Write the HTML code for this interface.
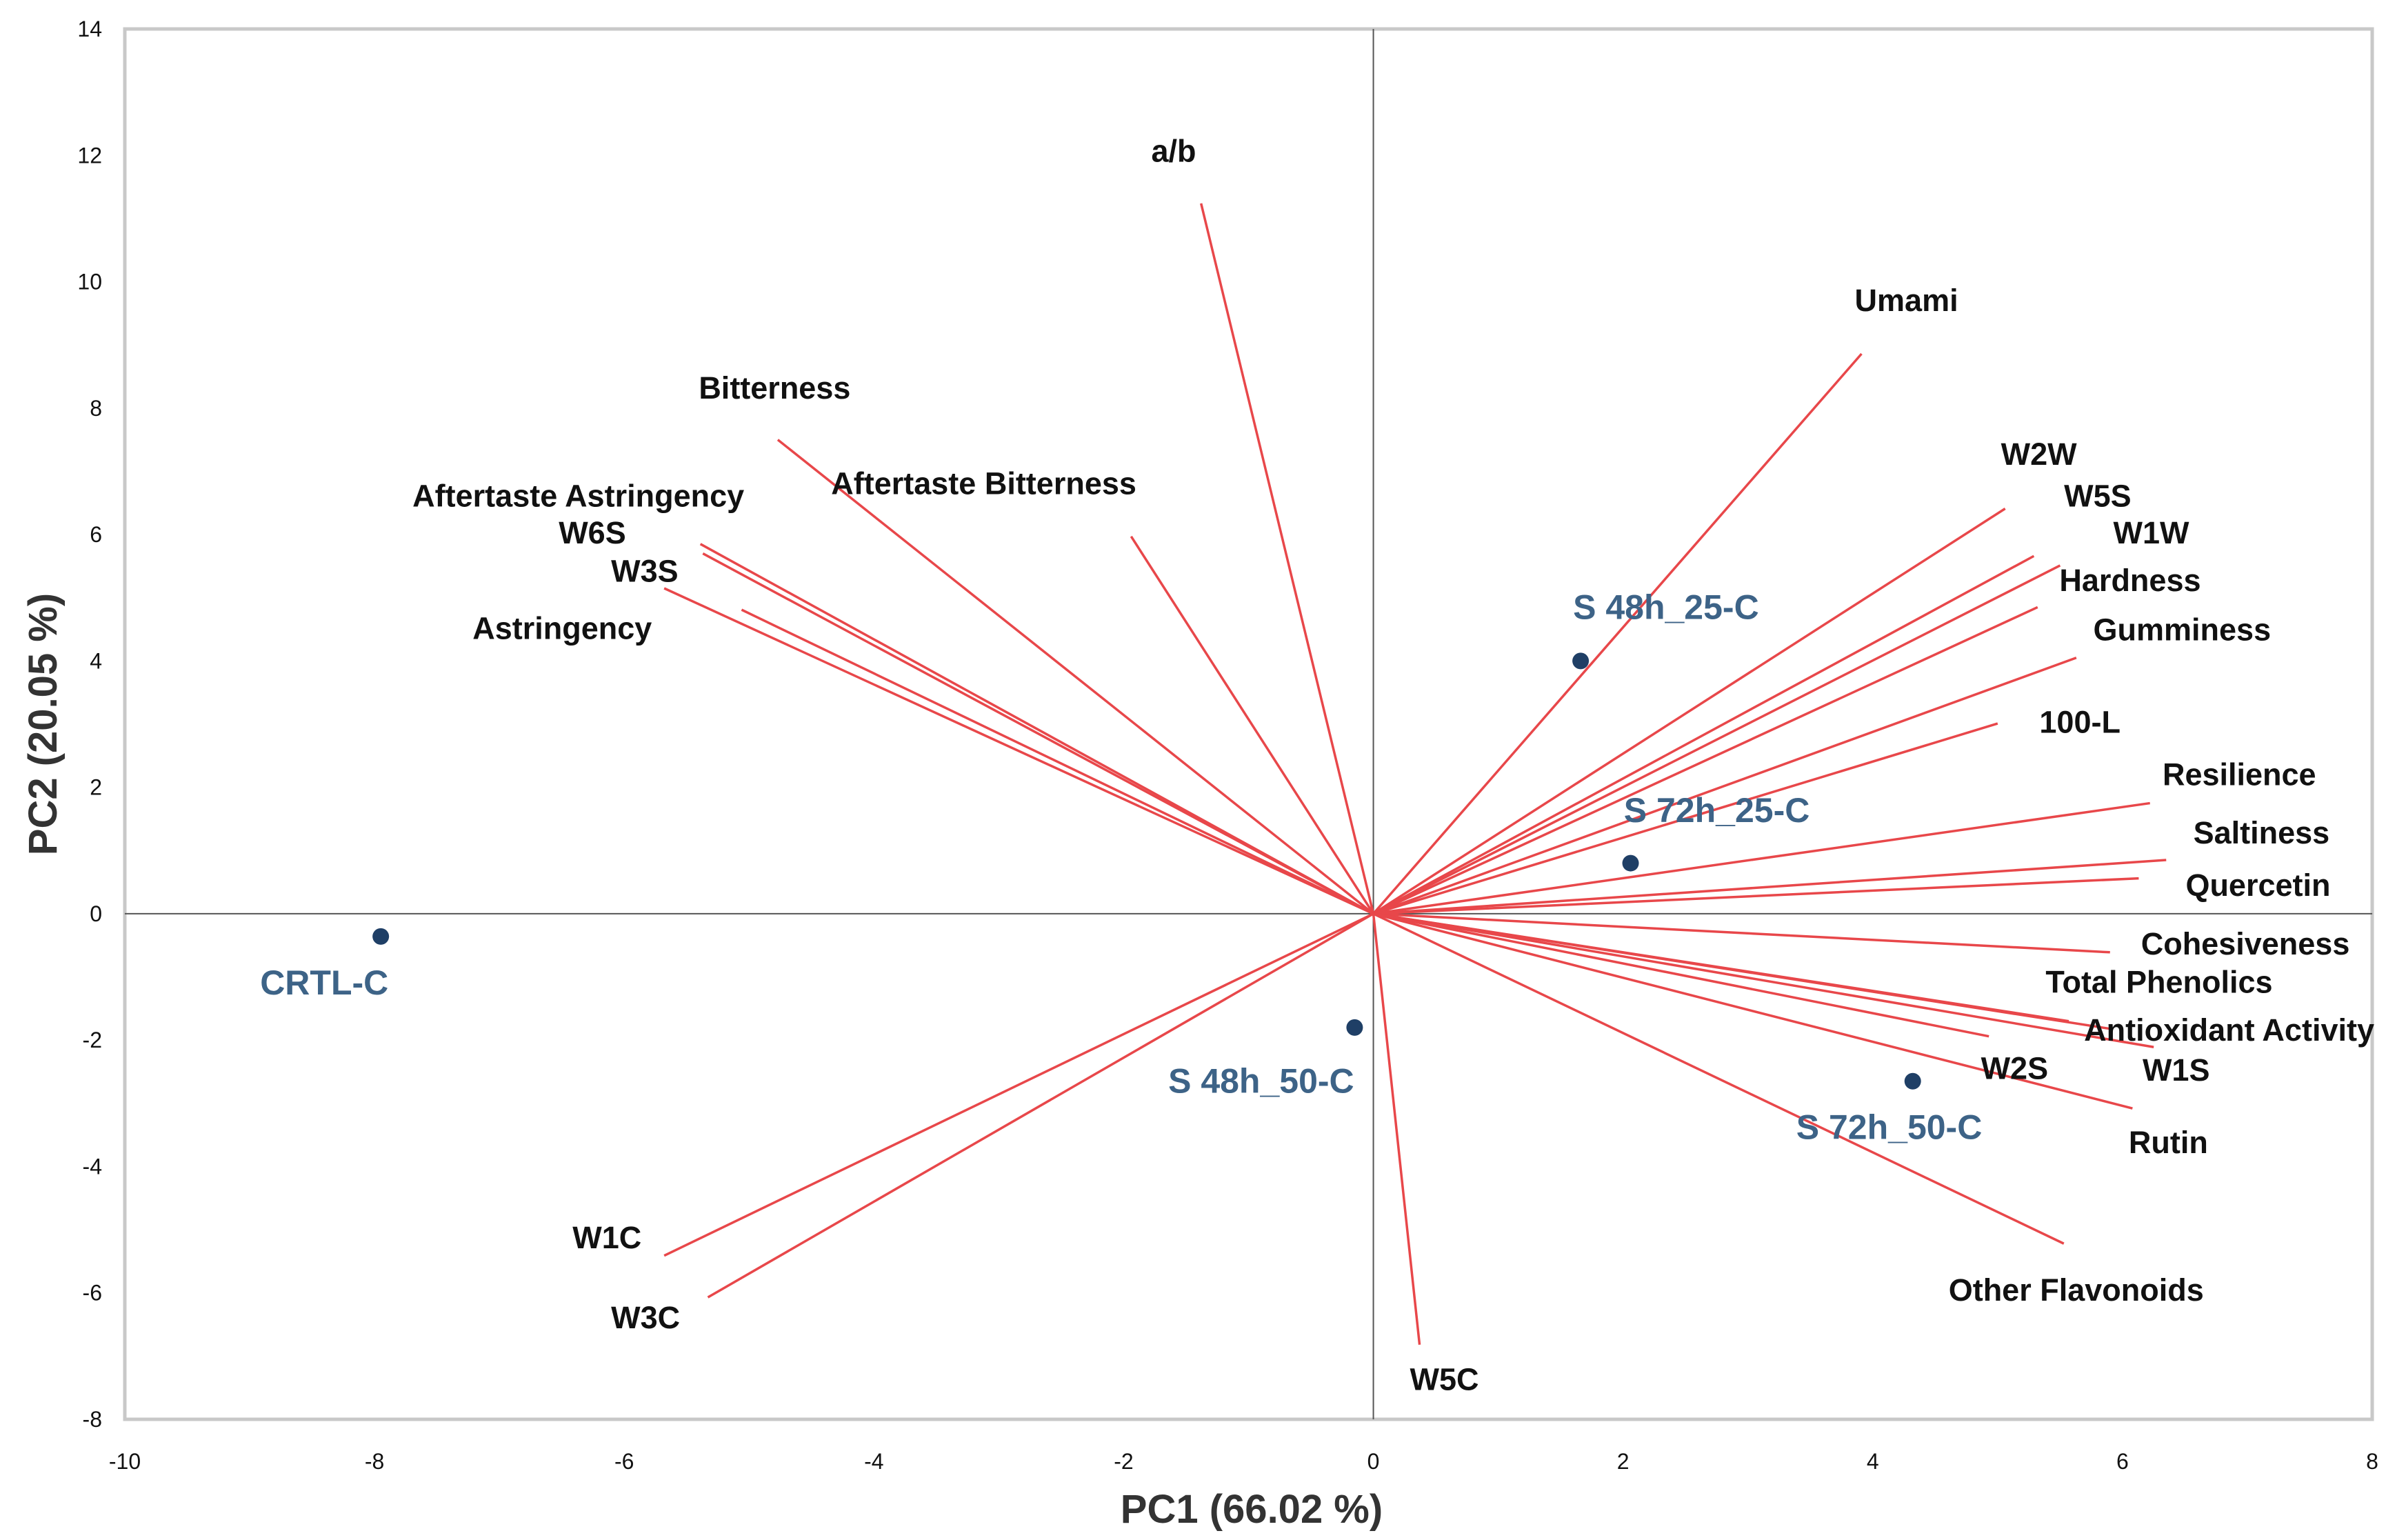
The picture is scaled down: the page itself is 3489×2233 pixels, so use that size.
<!DOCTYPE html>
<html><head><meta charset="utf-8"><style>
html,body{margin:0;padding:0;background:#fff;}
svg{display:block;font-family:"Liberation Sans",Arial,sans-serif;}
</style></head><body>
<svg id="chart" width="3489" height="2233" viewBox="0 0 3489 2233" xmlns="http://www.w3.org/2000/svg">
<rect x="0" y="0" width="3489" height="2233" fill="#fff"/>
<g id="grid"></g><g id="vectors"></g><g id="points"></g><g id="labels"></g>
</svg>
<script>
const xTicks=[-10,-8,-6,-4,-2,0,2,4,6,8];
const yTicks=[-8,-6,-4,-2,0,2,4,6,8,10,12,14];
const varNames=["a/b","Bitterness","Aftertaste Bitterness","Aftertaste Astringency","W6S","W3S","Astringency","Umami","W2W","W5S","W1W","Hardness","Gumminess","100-L","Resilience","Saltiness","Quercetin","Cohesiveness","Total Phenolics","Antioxidant Activity","W2S","W1S","Rutin","Other Flavonoids","W1C","W3C","W5C"];
const varPC1=[-1.38,-4.77,-1.94,-5.39,-5.37,-5.68,-5.06,3.91,5.06,5.29,5.50,5.32,5.63,5.00,6.22,6.35,6.13,5.90,5.57,5.90,4.93,6.25,6.08,5.53,-5.68,-5.33,0.37];
const varPC2=[11.24,7.50,5.97,5.85,5.70,5.15,4.81,8.86,6.41,5.66,5.51,4.85,4.05,3.01,1.75,0.85,0.56,-0.61,-1.70,-1.82,-1.94,-2.11,-3.08,-5.22,-5.41,-6.07,-6.82];
const sampleNames=["CRTL-C","S 48h_25-C","S 72h_25-C","S 48h_50-C","S 72h_50-C"];
const samplePC1=[-7.95,1.66,2.06,-0.15,4.32];
const samplePC2=[-0.36,4.00,0.80,-1.80,-2.65];
// label anchor positions (display-scale pixel layout, not data)
const varLabelPos=[[748,105],[454,259],[540,321],[268,329],[363,353],[397,378],[307,415],[1205,202],[1300,302],[1341,329],[1373,353],[1338,384],[1360,416],[1325,476],[1405,510],[1425,548],[1420,582],[1391,620],[1329,645],[1354,676],[1287,701],[1392,702],[1383,749],[1266,845],[372,811],[397,863],[916,903]];
const sampleLabelPos=[[169,646],[1022,402],[1055,534],[759,710],[1167,740]];

const NS="http://www.w3.org/2000/svg";
const L=181,R=3440,T=42,B=2058,S=2.232;
const X=v=>L+(v+10)/18*(R-L);
const Y=v=>B-(v+8)/22*(B-T);
function mk(tag,attrs,parent,text){const e=document.createElementNS(NS,tag);for(const k in attrs)e.setAttribute(k,attrs[k]);if(text!==undefined)e.textContent=text;parent.appendChild(e);return e;}
const grid=document.getElementById('grid'),vec=document.getElementById('vectors'),pts=document.getElementById('points'),lab=document.getElementById('labels');

let fr=mk('rect',{x:L,y:T,width:R-L,height:B-T,fill:'none',stroke:'#c8c8c8','stroke-width':5},grid);


let ax=mk('line',{x1:X(0),x2:X(0),y1:T,y2:B,stroke:'#555','stroke-width':2},grid);


let ay=mk('line',{x1:L,x2:R,y1:Y(0),y2:Y(0),stroke:'#555','stroke-width':2},grid);


xTicks.forEach(t=>{const e=mk('text',{x:X(t),y:2130,'text-anchor':'middle','font-size':32,fill:'#111'},grid,String(t));

});
yTicks.forEach(t=>{const e=mk('text',{x:148,y:Y(t)+11,'text-anchor':'end','font-size':32,fill:'#111'},grid,String(t));

});
let xt=mk('text',{x:1815,y:2208,'text-anchor':'middle','font-size':58,'font-weight':'bold',fill:'#333'},grid,'PC1 (66.02 %)');


let yt=mk('text',{x:0,y:0,'text-anchor':'middle','font-size':58,'font-weight':'bold',fill:'#333',transform:'translate(82,1050) rotate(-90)'},grid,'PC2 (20.05 %)');



varNames.forEach((n,i)=>{
 const l=mk('line',{x1:X(0),y1:Y(0),x2:X(varPC1[i]),y2:Y(varPC2[i]),stroke:'#e8474a','stroke-width':3.5},vec);
 
 
 const t=mk('text',{x:varLabelPos[i][0]*S,y:varLabelPos[i][1]*S,'font-size':45,'font-weight':'bold',fill:'#111'},lab,n);
 
 
});
sampleNames.forEach((n,i)=>{
 const c=mk('circle',{cx:X(samplePC1[i]),cy:Y(samplePC2[i]),r:12,fill:'#1f3f66'},pts);
 
 
 const t=mk('text',{x:sampleLabelPos[i][0]*S,y:sampleLabelPos[i][1]*S,'font-size':50,'font-weight':'bold',fill:'#3d6387'},lab,n);
 
 
});
</script>
</body></html>
